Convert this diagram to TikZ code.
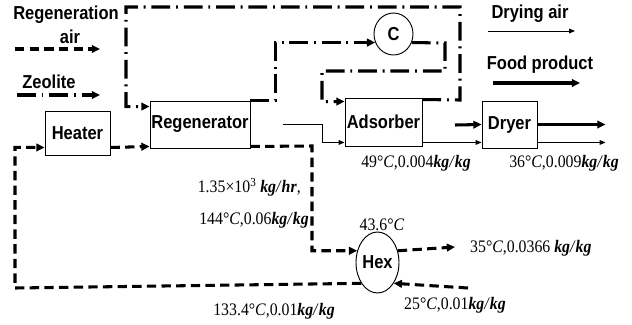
\documentclass[tikz,border=0pt]{standalone}
\usepackage{fontspec}
\setsansfont{Liberation Sans}[FakeStretch=0.88]
\newfontfamily\valfont{Liberation Serif}[FakeStretch=0.9]
\usepackage{tikz}
\usetikzlibrary{
  shapes.geometric,
  arrows.meta,
  positioning
}
\newcommand{\kgkg}{\textbf{\textit{kg}}\textit{/}\textbf{\textit{kg}}}

\begin{document}
\begin{tikzpicture}[
        x=0.03cm, y=-0.03cm,
        every node/.style={font=\sffamily\bfseries\fontsize{16}{18}\selectfont},
        box/.style={rectangle, draw, line width=0.8pt, inner sep=0pt},
        vessel/.style={ellipse, draw, line width=0.8pt, inner sep=0pt},
        val/.style={font=\valfont\fontsize{15}{17}\selectfont, inner sep=0pt},
        airline/.style={line width=2.6pt, dash pattern=on 8pt off 4.5pt},
        zeoline/.style={line width=2.6pt, dash pattern=on 16pt off 5pt on 1.6pt off 5pt},
        fineline/.style={line width=0.8pt},
        boldline/.style={line width=2.6pt},
        arrow/.style={-{Triangle[length=7pt,width=6.5pt]}},
        smallarrow/.style={-{Triangle[length=5pt,width=4pt]}}
    ]
    \useasboundingbox (0,0) rectangle (632,324);

    % Nodes
    \node[box, minimum width=1.95cm, minimum height=1.32cm] (heater) at (77.5,133) {Heater};
    \node[box, minimum width=3.0cm, minimum height=1.41cm] (regen) at (200,124.5) {Regenerator};
    \node[box, minimum width=2.31cm, minimum height=1.44cm] (adsorber) at (383.5,122) {Adsorber};
    \node[box, minimum width=1.65cm, minimum height=1.41cm] (dryer) at (509.5,124.5) {Dryer};
    \node[vessel, minimum width=1.17cm, minimum height=1.26cm] (cond) at (393.5,34) {C};
    \node[vessel, minimum width=1.29cm, minimum height=1.83cm] (hex) at (377.5,262.5) {Hex};

    % Legend
    \node (regair) at (66,15) {Regeneration};
    \node (regairb) at (70,37) {air};
    \node (zeolite) at (49,82) {Zeolite};
    \node (dryair) at (530,14) {Drying air};
    \node (food) at (540,65) {Food product};
    \coordinate (regairs) at (15,49);
    \coordinate (regaire) at (100,49);
    \coordinate (zeos) at (17,95);
    \coordinate (zeoe) at (100,95);
    \coordinate (dryairs) at (488,31);
    \coordinate (dryaire) at (575,31);
    \coordinate (foods) at (493,83);
    \coordinate (foode) at (580,83);

    % Free ends
    \coordinate (dryairin) at (283,124);
    \coordinate (foodin) at (455,125);
    \coordinate (ambin) at (468,288);
    \coordinate (exhout) at (455,247);

    % Arrows
    \draw[airline, arrow] (regairs) -- (regaire);
    \draw[zeoline, arrow] (zeos) -- (zeoe);
    \draw[fineline, smallarrow] (dryairs) -- (dryaire);
    \draw[boldline, arrow] (foods) -- (foode);

    \draw[zeoline, arrow] ([yshift=-0.06cm]adsorber.north east) -- (460,100) -- (460,7) -- (126,7) |- ([yshift=-0.18cm]regen.north west);
    \draw[zeoline, arrow] (regen.north east) -- ++(25,0) |- (cond.205);
    \draw[zeoline, arrow] (cond.-25) -- (445,43) -- (445,71) -- (322,71) |- ([yshift=-0.12cm]adsorber.north west);

    \draw[fineline, smallarrow] (dryairin) -- (322,124) |- ([yshift=0.12cm]adsorber.south west);
    \draw[fineline, smallarrow] ([yshift=0.12cm]adsorber.south east) -- ([yshift=0.18cm]dryer.south west);
    \draw[fineline, smallarrow] ([yshift=0.18cm]dryer.south east) -- ++(68,0);
    \draw[boldline, arrow] (foodin) -- (dryer.west);
    \draw[boldline, arrow] (dryer.east) -- ++(68,0);

    \draw[airline, arrow] (ambin) -- (hex.-52);
    \draw[airline, arrow] (hex.-128) -- (15,288) |- ([yshift=0.24cm]heater.south west);
    \draw[airline, arrow] ([yshift=0.24cm]heater.south east) -- ([yshift=0.06cm]regen.south west);
    \draw[airline, arrow] ([yshift=0.06cm]regen.south east) -- (312,146) |- (hex.150);
    \draw[airline, arrow] (hex.30) -- (exhout);

    % Label
    \node[val] (adsout) at (416,163) {49°\textit{C},0.004\kgkg};
    \node[val] (dryout) at (564,163) {36°\textit{C},0.009\kgkg};
    \node[val, anchor=east] (massflow) at (301,187) {1.35×10\textsuperscript{3} \textbf{\textit{kg}}\textit{/}\textbf{\textit{hr}},};
    \node[val, anchor=east] (hotin) at (309,220) {144°\textit{C},0.06\kgkg};
    \node[val] (hexmid) at (382,225) {43.6°\textit{C}};
    \node[val, anchor=west] (exh) at (470,248) {35°\textit{C},0.0366 \kgkg};
    \node[val] (amb) at (455,305) {25°\textit{C},0.01\kgkg};
    \node[val] (heatin) at (274,311) {133.4°\textit{C},0.01\kgkg};
\end{tikzpicture}
\end{document}
